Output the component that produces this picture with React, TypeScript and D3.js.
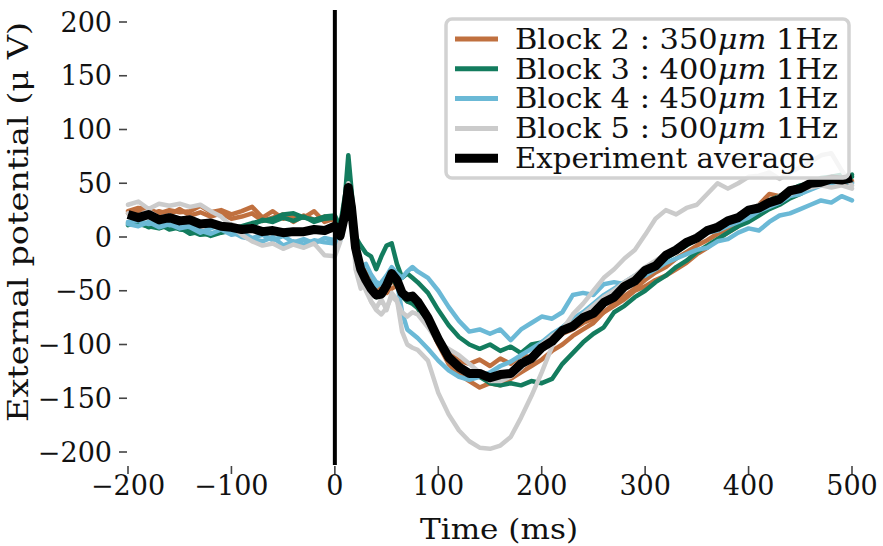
import * as d3 from "d3";

// sample times (ms)
const times = [
  -200, -190, -180, -170, -160, -150, -140, -130, -120, -110, -100, -90, -80, -70, -60, -50, -40, -30, -20, -10, 0,
  5, 10, 13, 16,
  20, 25, 30, 35, 40, 45, 50, 55, 60, 65, 70, 75, 80,
  90, 100, 110, 120, 130, 140, 150, 160, 170, 180, 190, 200, 210, 220, 230, 240, 250, 260, 270, 280, 290, 300,
  310, 320, 330, 340, 350, 360, 370, 380, 390, 400, 410, 420, 430, 440, 450, 460, 470, 480, 490, 500,
];

// values in µV
const block2a = [
  24, 27, 26, 22, 25, 23, 24, 29, 23, 25, 21, 24, 28, 18, 24, 17, 19, 18, 24, 14, 17,
  8, 25, 42, 25,
  -8, -25, -33, -40, -45, -50, -52, -48, -45, -50, -55, -58, -62,
  -78, -96, -108, -115, -118, -114, -120, -113, -118, -110, -112, -102, -98, -90, -86, -80, -76, -70, -64, -58, -50,
  -46, -40, -36, -30, -24, -16, -10, -2, 4, 10, 18, 30, 40, 38, 42, 46, 50, 50, 54, 50, 51,
];
const block2b = [
  22, 24, 20, 24, 21, 26, 20, 23, 19, 22, 17, 19, 22, 15, 18, 21, 14, 20, 16, 19, 15,
  5, 20, 40, 22,
  -12, -30, -38, -46, -50, -55, -48, -40, -46, -55, -60, -60, -66,
  -80, -100, -118, -128, -134, -140, -136, -138, -132, -126, -120, -114, -106, -100, -92, -86, -80, -70, -62, -55, -48,
  -40, -33, -28, -20, -14, -8, -3, 3, 8, 13, 18, 24, 30, 34, 40, 44, 48, 52, 55, 53, 52,
];
const block3a = [
  13, 12, 10, 8, 11, 7, 6, 2, 3, 5, 8, 10, 13, 15, 17, 21, 22, 18, 16, 19, 20,
  10, 40, 76, 45,
  0, -8, -15, -18, -30, -18, -8, -6, -25, -38, -34, -38, -42,
  -52, -68, -82, -93, -100, -104, -100, -106, -102, -108, -100, -98, -92, -86, -80, -74, -66, -60, -54, -46, -40,
  -34, -27, -20, -14, -8, -2, 4, 8, 12, 18, 22, 28, 34, 38, 44, 48, 50, 55, 56, 58, 56,
];
const block3b = [
  11, 14, 9, 12, 7, 9, 3, 5, 1, 4, 6, 9, 11, 16, 14, 18, 15, 19, 14, 17, 18,
  8, 30, 58, 35,
  -14, -32, -42, -50, -56, -54, -46, -38, -45, -55, -60, -62, -66,
  -80, -98, -112, -120, -126, -130, -136, -138, -136, -138, -134, -136, -132, -118, -108, -98, -90, -84, -70, -64, -56,
  -50, -42, -36, -28, -22, -14, -8, -2, 4, 10, 14, 20, 26, 30, 36, 40, 46, 50, 52, 56, 58,
];
const block4a = [
  14, 15, 12, 14, 11, 12, 9, 4, 8, 12, 5, 0, -2, -4, 0, -8, -4, -7, -3, -5, -6,
  -4, 20, 42, 25,
  -18, -28, -25, -35, -42, -44, -36, -28, -34, -38, -32, -28, -32,
  -38, -50, -65, -78, -88, -86, -90, -86, -96, -86, -80, -74, -76, -70, -54, -52, -54, -44, -42, -44, -38,
  -36, -30, -24, -20, -16, -12, -10, -4, -2, 4, 8, 6, 14, 20, 22, 26, 30, 34, 32, 38, 34,
];
const block4b = [
  12, 10, 14, 9, 12, 8, 10, 6, 3, 7, 2, 4, -1, 2, -3, 1, -5, -2, -6, -1, -3,
  -2, 18, 38, 20,
  -14, -30, -38, -42, -46, -42, -36, -32, -42, -70, -86, -90, -94,
  -104, -115, -124, -130, -133, -130, -126, -120, -116, -110, -104, -98, -90, -84, -76, -70, -62, -54, -48, -42, -36,
  -30, -24, -16, -10, -4, 0, 4, 6, 10, 14, 18, 24, 28, 32, 38, 40, 44, 48, 50, 52, 50,
];
const block5a = [
  30, 33, 26, 31, 29, 31, 28, 30, 24, 19, 10, 2, -4, -8, -6, -11, -7, -10, -6, -17, -18,
  -5, 30, 50, 30,
  -30, -48, -42, -60, -66, -58, -68, -52, -58, -88, -100, -103, -105,
  -115, -145, -165, -180, -190, -196, -197, -194, -186, -168, -148, -126, -102, -86, -72, -62, -50, -38, -30, -20, -12,
  2, 17, 25, 21, 27, 30, 40, 50, 45, 50, 56, 57, 60, 54, 60, 65, 70, 76, 78, 62, 48,
];
const block5b = [
  22, 20, 24, 18, 20, 17, 18, 14, 15, 11, 12, 8, 10, 6, 7, 5, 7, 3, 8, 4, 8,
  0, 20, 45, 30,
  -20, -38, -50, -60, -68, -72, -66, -55, -60, -70, -74, -70, -72,
  -84, -98, -104, -110, -118, -126, -134, -134, -130, -122, -112, -100, -92, -86, -80, -72, -64, -56, -50, -42, -36,
  -28, -22, -16, -10, -4, 2, 6, 12, 16, 20, 24, 30, 32, 38, 40, 44, 46, 48, 46, 48, 45,
];
const average = [
  21, 18, 21, 16, 18, 15, 16, 12, 13, 10, 9, 7, 8, 5, 6, 4, 5, 5, 7, 6, 10,
  1, 22, 46, 28,
  -10, -30, -40, -48, -54, -53, -45, -34, -40, -52, -56, -55, -60,
  -75, -95, -112, -121, -127, -127, -131, -128, -127, -118, -113, -103, -97, -87, -83, -75, -71, -61, -56, -46, -41,
  -31, -27, -17, -12, -5, -1, 6, 9, 15, 18, 25, 27, 32, 35, 43, 45, 50, 51, 54, 53, 55,
];

const xTicks = [-200, -100, 0, 100, 200, 300, 400, 500];
const yTicks = [200, 150, 100, 50, 0, -50, -100, -150, -200];

const brown = "#c0703f";
const green = "#137c5e";
const blue = "#6bb9d6";
const grey = "#cbcbcb";

const traces = [
  { id: "b2a", values: block2a, color: brown },
  { id: "b2b", values: block2b, color: brown },
  { id: "b3a", values: block3a, color: green },
  { id: "b3b", values: block3b, color: green },
  { id: "b4a", values: block4a, color: blue },
  { id: "b4b", values: block4b, color: blue },
  { id: "b5a", values: block5a, color: grey },
  { id: "b5b", values: block5b, color: grey },
];

const legendItems = [
  { parts: ["Block 2 : 350", "μm", " 1Hz"], color: brown, w: 5, len: 323 },
  { parts: ["Block 3 : 400", "μm", " 1Hz"], color: green, w: 5, len: 323 },
  { parts: ["Block 4 : 450", "μm", " 1Hz"], color: blue, w: 5, len: 323 },
  { parts: ["Block 5 : 500", "μm", " 1Hz"], color: grey, w: 5, len: 323 },
  { parts: ["Experiment average"], color: "#000", w: 9, len: 300 },
];

const width = 883;
const height = 546;
const font = "'DejaVu Serif', serif";

export default function App() {
  const x = d3.scaleLinear().domain([-200, 500]).range([128, 852]);
  const y = d3.scaleLinear().domain([-200, 200]).range([452, 22]);

  const line = d3
    .line<number>()
    .x((_, i) => x(times[i]))
    .y((d) => y(d));

  return (
    <svg width={width} height={height} style={{ position: "absolute", left: 0, top: 0, background: "#fff" }}>
      {/* y ticks */}
      {yTicks.map((t) => (
        <g key={t} transform={`translate(0,${y(t)})`}>
          <line x1={119} x2={127} stroke="#444" strokeWidth={1.6} />
          <text x={112} dy="0.36em" textAnchor="end" fontFamily={font} fontSize={27} fill="#111">
            {t < 0 ? `−${-t}` : t}
          </text>
        </g>
      ))}
      {/* x ticks */}
      {xTicks.map((t) => (
        <g key={t} transform={`translate(${x(t)},0)`}>
          <line y1={466} y2={474} stroke="#444" strokeWidth={1.6} />
          <text y={495} textAnchor="middle" fontFamily={font} fontSize={27} fill="#111">
            {t < 0 ? `−${-t}` : t}
          </text>
        </g>
      ))}

      {traces.map((s) => (
        <path
          key={s.id}
          d={line(s.values) ?? ""}
          fill="none"
          stroke={s.color}
          strokeWidth={4.5}
          strokeLinejoin="round"
          strokeLinecap="round"
        />
      ))}
      <path d={line(average) ?? ""} fill="none" stroke="#000" strokeWidth={9} strokeLinejoin="round" />
      <line x1={x(0)} x2={x(0)} y1={10} y2={465} stroke="#000" strokeWidth={4} />

      {/* legend */}
      <rect x={446} y={19} width={403} height={159} rx={6} fill="#fff" fillOpacity={0.8} stroke="#d2d2d2" strokeWidth={3.5} />
      {legendItems.map((it, i) => {
        const cy = 39 + i * 29.8;
        return (
          <g key={i}>
            <line x1={455} x2={498} y1={cy} y2={cy} stroke={it.color} strokeWidth={it.w} />
            <text
              x={515}
              y={cy}
              dy="0.36em"
              fontFamily={font}
              fontSize={27}
              fill="#111"
              textLength={it.len}
              lengthAdjust="spacingAndGlyphs"
              style={{ whiteSpace: "pre" }}
            >
              {it.parts.map((p, j) => (
                <tspan key={j} fontStyle={j === 1 ? "italic" : "normal"}>
                  {p}
                </tspan>
              ))}
            </text>
          </g>
        );
      })}

      {/* axis labels */}
      <text
        x={499}
        y={539}
        textAnchor="middle"
        fontFamily={font}
        fontSize={28}
        fill="#111"
        textLength={158}
        lengthAdjust="spacingAndGlyphs"
      >
        Time (ms)
      </text>
      <text
        transform={`translate(28,${222}) rotate(-90)`}
        textAnchor="middle"
        fontFamily={font}
        fontSize={28}
        fill="#111"
        textLength={400}
        lengthAdjust="spacingAndGlyphs"
      >
        External potential (μ V)
      </text>
    </svg>
  );
}
